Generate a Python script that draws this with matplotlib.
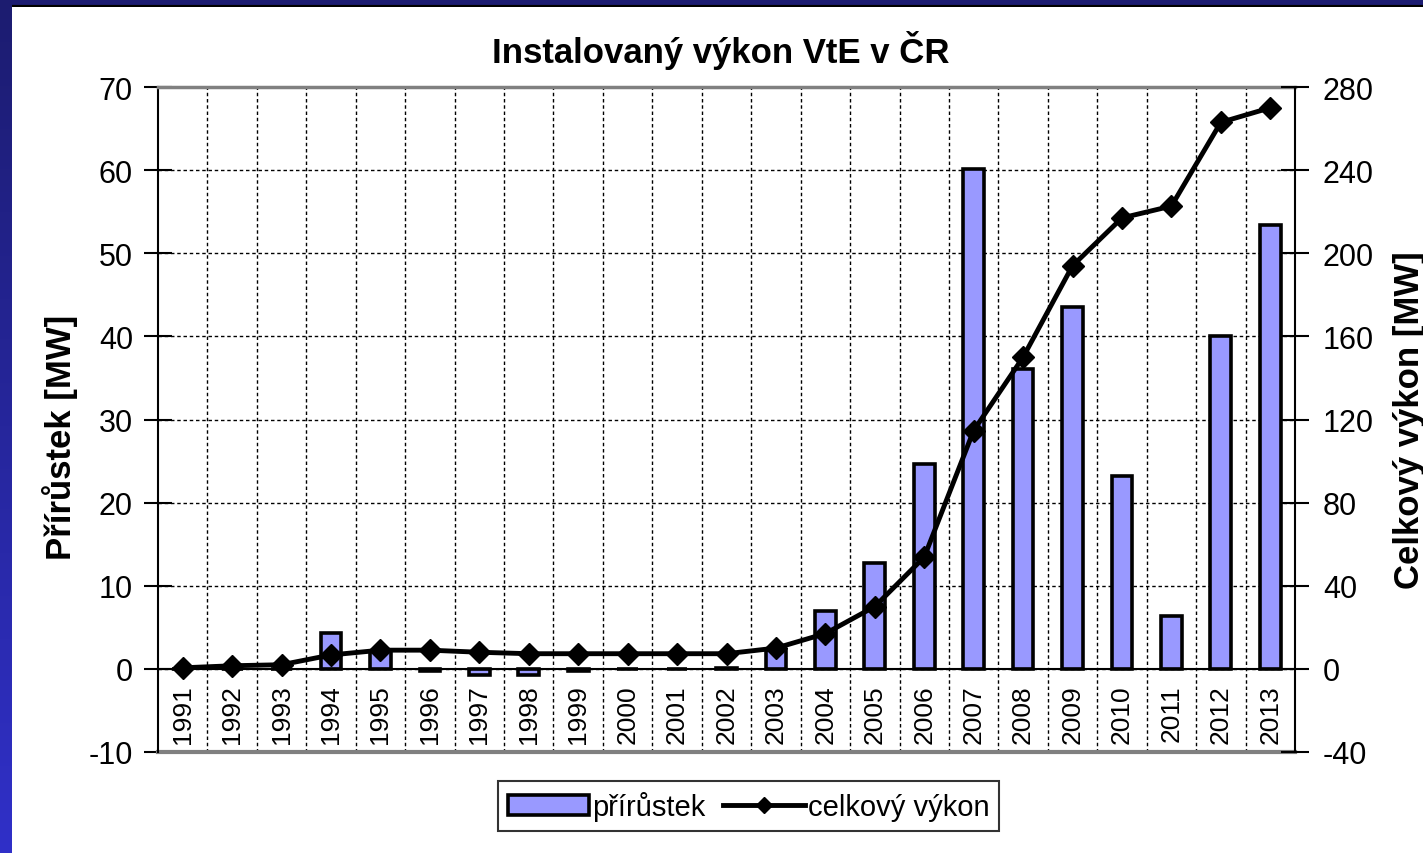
import matplotlib
matplotlib.use('Agg')
import matplotlib.pyplot as plt
from matplotlib.colors import LinearSegmentedColormap
import numpy as np

plt.rcParams['font.family'] = ['Liberation Sans', 'DejaVu Sans']
plt.rcParams['axes.unicode_minus'] = False

# data
years = [str(y) for y in range(1991, 2014)]
prirustek = [0, 0, 0, 4.3, 2.2, -0.2, -0.7, -0.7, -0.2, 0, 0, 0.1, 2.3, 7.0,
             12.7, 24.6, 60.1, 36.1, 43.5, 23.2, 6.4, 40.1, 53.4]
celkovy = [0.5, 1.5, 2.0, 6.7, 9.0, 9.0, 8.0, 7.3, 7.3, 7.3, 7.3, 7.3, 10.0,
           17.0, 30.0, 53.8, 114.7, 150.0, 194.0, 217.0, 222.7, 263.0, 270.0]
left_ticks = list(range(-10, 71, 10))
right_ticks = list(range(-40, 281, 40))

W, H = 1423, 854
fig = plt.figure(figsize=(W / 100, H / 100), dpi=100)

# blue frame (top strip + left gradient strip)
top = fig.add_axes([0, 1 - 8 / H, 1, 8 / H])
top.set_facecolor('#1c1c72')
top.set_xticks([])
top.set_yticks([])
for s in top.spines.values():
    s.set_visible(False)
top.axhline(0, color='black', lw=3)
strip = fig.add_axes([0, 0, 12 / W, 1])
grad = np.linspace(0, 1, 256).reshape(-1, 1)
cmap = LinearSegmentedColormap.from_list('frame', ['#1c1c70', '#3030c8'])
strip.imshow(grad, aspect='auto', cmap=cmap, origin='upper')
strip.axis('off')

ax = fig.add_axes([158 / W, 1 - 753 / H, (1295 - 158) / W, (753 - 88) / H])
x = np.arange(len(years))

dash = (0, (2.5, 2))
ax.bar(x, prirustek, width=0.42, color='#9999FF', edgecolor='black',
       linewidth=2.6, zorder=3, label='přírůstek')

ax.set_xlim(-0.5, len(years) - 0.5)
ax.set_ylim(-10, 70)
ax.set_yticks(left_ticks)
ax.set_xticks(x)
ax.set_xticklabels(years)
ax.set_xticks(np.arange(0.5, len(years) - 0.5, 1), minor=True)
ax.tick_params(axis='x', which='both', length=0, pad=11,
               labelrotation=90, labelsize=19)
ax.tick_params(axis='y', direction='inout', length=20, width=1.5,
               labelsize=22, pad=8)
ax.grid(axis='x', which='minor', color='black', linestyle=dash, lw=1)
ax.grid(axis='y', which='major', color='black', linestyle=dash, lw=1)
ax.set_axisbelow(True)

ax.spines['bottom'].set_position(('data', 0))
ax.spines['bottom'].set_linewidth(1.5)
ax.spines['bottom'].set_zorder(4)
ax.spines['top'].set_color('#808080')
ax.spines['top'].set_linewidth(2.5)
ax.spines['left'].set_linewidth(1.5)
ax.spines['right'].set_visible(False)
ax.axhline(-10, color='#808080', lw=3, zorder=1, clip_on=False)

ax.set_ylabel('Přírůstek [MW]', fontsize=25, fontweight='bold')
ax.yaxis.set_label_coords(-0.070, 0.475)

ax2 = ax.twinx()
ax2.plot(x, celkovy, color='black', lw=3.5, marker='D', markersize=11,
         label='celkový výkon', zorder=5)
ax2.set_ylim(-40, 280)
ax2.set_yticks(right_ticks)
ax2.tick_params(axis='y', direction='inout', length=20, width=1.5,
                labelsize=22, pad=10)
for s in ['top', 'left', 'bottom']:
    ax2.spines[s].set_visible(False)
ax2.spines['right'].set_linewidth(1.5)
ax2.set_ylabel('Celkový výkon [MW]', fontsize=25, fontweight='bold')
ax2.yaxis.set_label_coords(1.086, 0.5)

ax.set_title('Instalovaný výkon VtE v ČR', fontsize=25, fontweight='bold',
             pad=18, x=0.495)

h1, l1 = ax.get_legend_handles_labels()
h2, l2 = ax2.get_legend_handles_labels()
leg = fig.legend(h1 + h2, l1 + l2, loc='center', bbox_to_anchor=(0.526, 0.055),
                 ncol=2, fontsize=21, frameon=True, fancybox=False,
                 edgecolor='black', handlelength=2.8, handletextpad=0.1,
                 columnspacing=0.6, borderpad=0.35, markerscale=0.7)
leg.get_frame().set_linewidth(1.5)

fig.savefig('out.png', dpi=100)
